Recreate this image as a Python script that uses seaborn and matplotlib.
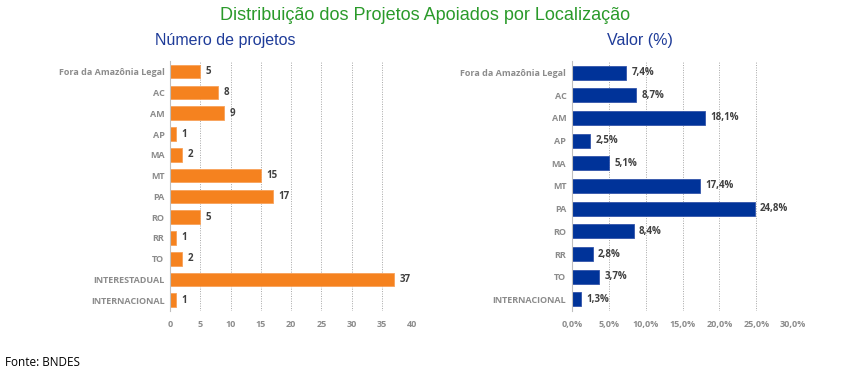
import matplotlib
matplotlib.use("Agg")
import matplotlib.pyplot as plt
import seaborn as sns
import pandas as pd
from matplotlib.ticker import FuncFormatter

# data
locais_n = ["Fora da Amazônia Legal", "AC", "AM", "AP", "MA", "MT", "PA", "RO",
            "RR", "TO", "INTERESTADUAL", "INTERNACIONAL"]
num_projetos = [5, 8, 9, 1, 2, 15, 17, 5, 1, 2, 37, 1]

locais_v = ["Fora da Amazônia Legal", "AC", "AM", "AP", "MA", "MT", "PA", "RO",
            "RR", "TO", "INTERNACIONAL"]
valor_pct = [7.4, 8.7, 18.1, 2.5, 5.1, 17.4, 24.8, 8.4, 2.8, 3.7, 1.3]

sns.set_theme(style="white")
plt.rcParams['font.family'] = ['Open Sans', 'DejaVu Sans']

fig = plt.figure(figsize=(8.51, 3.78), dpi=100)
ax1 = fig.add_axes([0.1998, 0.178, 0.2844, 0.66])
ax2 = fig.add_axes([0.672, 0.178, 0.260, 0.66])

df1 = pd.DataFrame({"local": locais_n, "n": num_projetos})
df2 = pd.DataFrame({"local": locais_v, "v": valor_pct})

sns.barplot(data=df1, x="n", y="local", ax=ax1, color="#F5821F",
            saturation=1, width=0.66, edgecolor="#F8A25A", linewidth=0.6)
sns.barplot(data=df2, x="v", y="local", ax=ax2, color="#003399",
            saturation=1, width=0.62, edgecolor="#3355AA", linewidth=0.6)

tick_col = "#8C8C8C"
lab_col = "#404040"

for ax, xmax, step in [(ax1, 40, 5), (ax2, 30, 5)]:
    ax.set_xlim(0, xmax)
    ax.set_xticks(range(0, xmax + 1, step))
    ax.set_xlabel("")
    ax.set_ylabel("")
    for s in ["top", "right", "bottom"]:
        ax.spines[s].set_visible(False)
    ax.spines["left"].set_color("#BFBFBF")
    ax.spines["left"].set_linewidth(0.8)
    ax.grid(axis="x", linestyle=(0, (1, 1.5)), color="#A6A6A6", linewidth=0.7)
    ax.set_axisbelow(True)
    ax.tick_params(axis="y", length=0, labelsize=6.5, labelcolor=tick_col, pad=4)
    ax.tick_params(axis="x", length=0, labelsize=6.5, labelcolor=tick_col, pad=7)
    for t in ax.get_xticklabels() + ax.get_yticklabels():
        t.set_fontweight("bold")

ax2.xaxis.set_major_formatter(FuncFormatter(lambda v, p: f"{v:.1f}%".replace(".", ",")))

for i, v in enumerate(num_projetos):
    ax1.text(v + 0.9, i, str(v), va="center", ha="left", fontsize=7,
             fontweight="bold", color=lab_col)
for i, v in enumerate(valor_pct):
    ax2.text(v + 0.7, i, f"{v:.1f}%".replace(".", ","), va="center", ha="left",
             fontsize=7, fontweight="bold", color=lab_col)

fig.text(0.5, 0.958, "Distribuição dos Projetos Apoiados por Localização",
         ha="center", va="center", fontsize=13, color="#2A9A2A",
         family=["Liberation Sans", "DejaVu Sans"])
fig.text(0.265, 0.893, "Número de projetos", ha="center", va="center",
         fontsize=11.5, color="#1F3C99", family=["Liberation Sans", "DejaVu Sans"])
fig.text(0.752, 0.893, "Valor (%)", ha="center", va="center",
         fontsize=11.5, color="#1F3C99", family=["Liberation Sans", "DejaVu Sans"])
fig.text(0.006, 0.04, "Fonte: BNDES", ha="left", va="center", fontsize=8.5,
         color="#000000")

fig.savefig("out.png", dpi=100)
